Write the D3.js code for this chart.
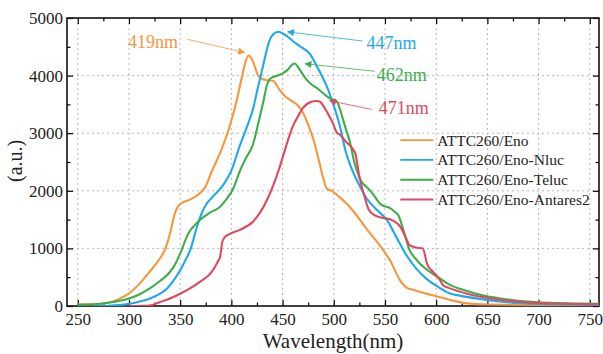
<!DOCTYPE html>
<html>
<head>
<meta charset="utf-8">
<script src="https://cdn.jsdelivr.net/npm/d3@7"></script>
<style>
  body { margin: 0; background: #fff; }
  svg { display: block; font-family: "Liberation Serif", "DejaVu Serif", serif; }
  .axis path { display: none; }
  .axis line { stroke: #000; stroke-width: 1.2; }
  .grid line { stroke: #b8b8b8; stroke-width: 1; stroke-dasharray: 2,3; }
</style>
</head>
<body>
<svg width="603" height="354"></svg>
<script>
// ---- data ----
const enoWl  = [250,260,270,280,290,300,310,320,330,335,340,345,350,360,370,375,380,390,398,405,410,414,417,421,425,429,435,441,446,452,458,465,470,475,480,485,490,493,499,505,512,519,532,545,555,565,571,580,590,600,613,630,650,700,760];
const enoVal = [30,30,35,60,120,220,380,590,820,970,1250,1620,1770,1850,1970,2080,2300,2700,3100,3550,3950,4250,4350,4250,4050,3950,3920,3910,3780,3650,3570,3480,3350,3150,2900,2560,2200,2040,1990,1900,1790,1650,1340,1050,790,440,320,270,215,170,110,45,25,18,15];

const nlucWl  = [265,280,300,310,320,330,337,345,350,355,360,366,371,376,382,392,400,408,415,421,426,431,437,441,446,450,454,460,467,477,485,493,499,506,512,516,524,532,542,552,561,571,581,590,603,613,623,646,662,695,730,760];
const nlucVal = [0,5,38,75,125,210,300,480,620,790,980,1350,1610,1780,1900,2100,2350,2770,3100,3410,3800,4170,4600,4720,4760,4730,4690,4600,4510,4370,4110,3820,3530,3120,2660,2450,2130,1870,1670,1490,1200,880,640,480,320,220,180,115,78,38,25,20];

const telucWl  = [250,260,272,285,299,310,320,330,340,345,350,358,364,369,379,389,395,402,408,414,421,426,431,435,438,443,448,452,456,460,462,465,468,473,478,483,488,493,498,503,506,509,512,516,520,523,526,530,535,540,545,550,555,560,563,568,574,580,584,594,604,613,630,646,660,678,711,760];
const telucVal = [20,25,38,70,125,200,300,430,590,720,910,1260,1400,1490,1620,1725,1850,2045,2330,2560,2800,3150,3530,3850,3950,3990,4020,4060,4120,4200,4210,4150,4070,3940,3850,3790,3720,3645,3590,3550,3420,3240,3060,2830,2500,2330,2190,2100,2015,1900,1780,1730,1700,1630,1580,1318,970,820,737,590,475,370,260,183,140,96,56,40];

const antaresWl  = [300,320,330,340,350,360,369,382,387,389,391,393,397,408,421,428,434,441,447,453,460,465,470,475,480,484,487,490,493,499,503,506,512,519,521,525,530,534,537,545,555,560,565,570,574,580,587,591,597,603,607,613,630,662,695,727,760];
const antaresVal = [0,10,66,130,213,310,415,620,780,850,1100,1180,1240,1318,1462,1620,1810,2100,2400,2750,3120,3290,3440,3520,3555,3560,3540,3470,3380,3180,3010,2975,2850,2715,2650,2250,1900,1680,1610,1540,1505,1460,1375,1200,1056,1015,1000,737,590,470,357,310,213,108,56,38,30];

const seriesNames  = ["ATTC260/Eno", "ATTC260/Eno-Nluc", "ATTC260/Eno-Teluc", "ATTC260/Eno-Antares2"];
const seriesColors = ["#f7963c", "#1ea9ea", "#3cae4a", "#e2485c"];

// annotation: peak label, text anchor (nm, value), arrow tail and head (nm, value)
const peakLabels = ["419nm", "447nm", "462nm", "471nm"];
const labelAt    = [[299, 4480], [532, 4460], [542, 3906], [544, 3325]];
const arrowFrom  = [[357, 4630], [528, 4600], [540, 4075], [537, 3412]];
const arrowTo    = [[413, 4400], [455, 4760], [472, 4205], [496, 3565]];

const xMajor = d3.range(250, 751, 50);
const yMajor = d3.range(0, 5001, 1000);

// ---- layout ----
const margin = {top: 18, right: 4, bottom: 48, left: 67};
const width = 603 - margin.left - margin.right;
const height = 354 - margin.top - margin.bottom;

const svg = d3.select("svg")
  .append("g")
  .attr("transform", `translate(${margin.left},${margin.top})`);

const x = d3.scaleLinear().domain([239.5, 759]).range([0, width]);
const y = d3.scaleLinear().domain([0, 5000]).range([height, 0]);

// grid
svg.append("g").attr("class", "grid")
  .selectAll("line").data(xMajor).enter().append("line")
  .attr("x1", d => x(d)).attr("x2", d => x(d))
  .attr("y1", 0).attr("y2", height);
svg.append("g").attr("class", "grid")
  .selectAll("line").data(yMajor.slice(1, -1)).enter().append("line")
  .attr("x1", 0).attr("x2", width)
  .attr("y1", d => y(d)).attr("y2", d => y(d));

// axes, ticks pointing inward on all four sides
const xMinor = d3.range(275, 751, 50);
const yMinor = d3.range(500, 5000, 1000);

function styleAxis(g) {
  g.attr("font-family", "'Liberation Serif', serif").attr("font-size", 17);
  g.selectAll("text").attr("fill", "#222");
}

svg.append("g").attr("class", "axis").attr("transform", `translate(0,${height})`)
  .call(d3.axisBottom(x).tickValues(xMajor).tickSize(-6).tickPadding(7).tickFormat(d3.format("d")))
  .call(styleAxis);
svg.append("g").attr("class", "axis").attr("transform", `translate(0,${height})`)
  .call(d3.axisBottom(x).tickValues(xMinor).tickSize(-3.5).tickFormat(""));
svg.append("g").attr("class", "axis")
  .call(d3.axisTop(x).tickValues(xMajor).tickSize(-6).tickFormat(""));
svg.append("g").attr("class", "axis")
  .call(d3.axisTop(x).tickValues(xMinor).tickSize(-3.5).tickFormat(""));
svg.append("g").attr("class", "axis")
  .call(d3.axisLeft(y).tickValues(yMajor).tickSize(-6).tickPadding(4).tickFormat(d3.format("d")))
  .call(styleAxis);
svg.append("g").attr("class", "axis")
  .call(d3.axisLeft(y).tickValues(yMinor).tickSize(-3.5).tickFormat(""));
svg.append("g").attr("class", "axis").attr("transform", `translate(${width},0)`)
  .call(d3.axisRight(y).tickValues(yMajor).tickSize(-6).tickFormat(""));
svg.append("g").attr("class", "axis").attr("transform", `translate(${width},0)`)
  .call(d3.axisRight(y).tickValues(yMinor).tickSize(-3.5).tickFormat(""));

// frame
svg.append("rect")
  .attr("width", width).attr("height", height)
  .attr("fill", "none").attr("stroke", "#111").attr("stroke-width", 1.6);

// curves
const series = [
  {wl: enoWl, val: enoVal},
  {wl: nlucWl, val: nlucVal},
  {wl: telucWl, val: telucVal},
  {wl: antaresWl, val: antaresVal}
];
const line = d3.line()
  .x(d => x(d[0]))
  .y(d => y(d[1]))
  .curve(d3.curveMonotoneX);

svg.append("clipPath").attr("id", "plot-clip")
  .append("rect").attr("width", width).attr("height", height);

svg.append("g").attr("clip-path", "url(#plot-clip)")
  .selectAll("path").data(series).enter().append("path")
  .attr("d", s => line(s.wl.map((w, i) => [w, s.val[i]])))
  .attr("fill", "none")
  .attr("stroke", (s, i) => seriesColors[i])
  .attr("stroke-width", 2.1)
  .attr("stroke-linejoin", "round");

// arrow heads
const defs = svg.append("defs");
seriesColors.forEach((c, i) => {
  defs.append("marker")
    .attr("id", "head" + i)
    .attr("viewBox", "0 0 10 10")
    .attr("refX", 9).attr("refY", 5)
    .attr("markerWidth", 9).attr("markerHeight", 7)
    .attr("markerUnits", "userSpaceOnUse")
    .attr("orient", "auto")
    .append("path").attr("d", "M0,0 L10,5 L0,10 Z").attr("fill", c);
});

// peak annotations
const notes = svg.append("g");
peakLabels.forEach((t, i) => {
  notes.append("line")
    .attr("x1", x(arrowFrom[i][0])).attr("y1", y(arrowFrom[i][1]))
    .attr("x2", x(arrowTo[i][0])).attr("y2", y(arrowTo[i][1]))
    .attr("stroke", seriesColors[i]).attr("stroke-width", 0.8)
    .attr("marker-end", `url(#head${i})`);
  notes.append("text")
    .attr("x", x(labelAt[i][0])).attr("y", y(labelAt[i][1]))
    .attr("fill", seriesColors[i])
    .style("font-size", "18px")
    .text(t);
});

// legend
const legend = svg.append("g")
  .attr("transform", `translate(${x(565)},${y(2880)})`);
seriesNames.forEach((name, i) => {
  const row = legend.append("g").attr("transform", `translate(0,${i * 19.8})`);
  row.append("line")
    .attr("x1", 0).attr("x2", 33)
    .attr("stroke", seriesColors[i]).attr("stroke-width", 1.9);
  row.append("text")
    .attr("x", 37).attr("y", 5.5)
    .style("font-size", "15.5px").attr("fill", "#222")
    .text(name);
});

// axis titles
svg.append("text")
  .attr("x", width / 2).attr("y", height + 42)
  .attr("text-anchor", "middle")
  .style("font-size", "21px").attr("fill", "#222")
  .text("Wavelength(nm)");

svg.append("text")
  .attr("transform", `translate(${-45},${y(2520)}) rotate(-90)`)
  .attr("text-anchor", "middle")
  .style("font-size", "20px").attr("fill", "#222")
  .text("(a.u.)");
</script>
</body>
</html>
